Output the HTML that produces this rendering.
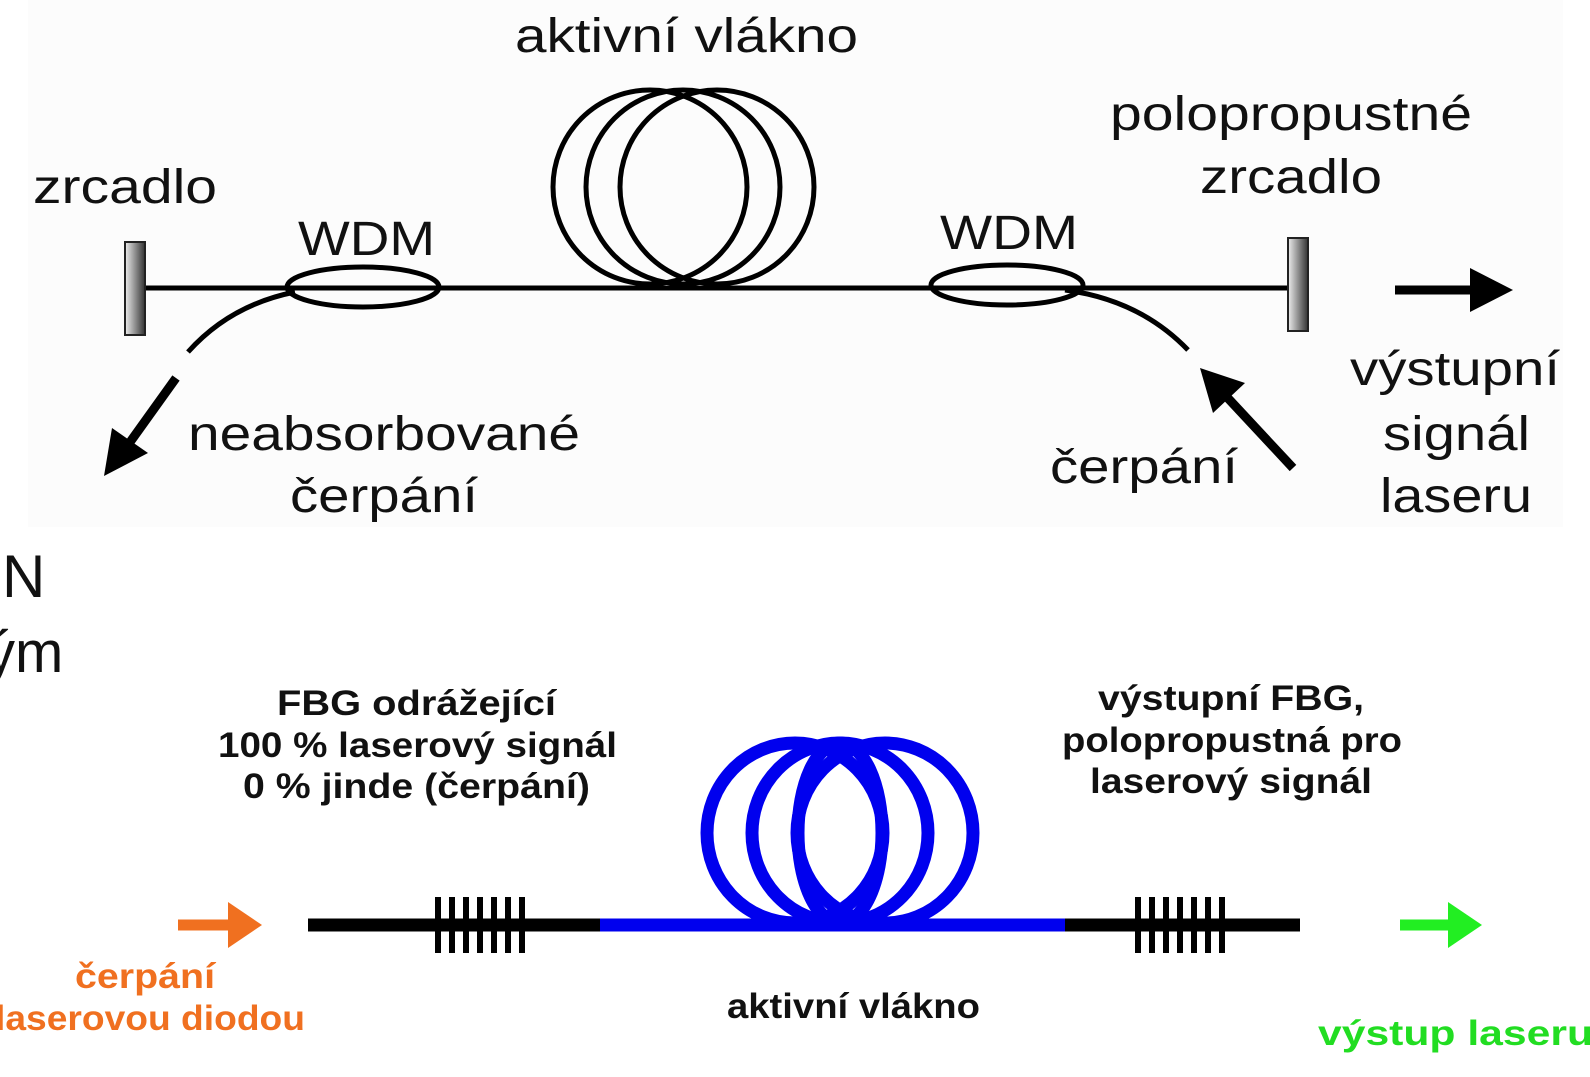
<!DOCTYPE html>
<html><head><meta charset="utf-8"><style>
html,body{margin:0;padding:0;background:#fff;}
svg{display:block;}
.t{font-family:"Liberation Sans",Arial,sans-serif;font-size:48px;fill:#111;}
.b{font-family:"Liberation Sans",Arial,sans-serif;font-size:35px;font-weight:bold;fill:#111;}
</style></head><body>
<svg width="1590" height="1077" viewBox="0 0 1590 1077" xmlns="http://www.w3.org/2000/svg">
<defs>
<linearGradient id="g" x1="0" x2="1"><stop offset="0" stop-color="#eee"/><stop offset="1" stop-color="#333"/></linearGradient>
</defs>
<rect x="28" y="0" width="1535" height="527" fill="#fcfcfc"/>
<text class="t" x="515" y="52" textLength="343" lengthAdjust="spacingAndGlyphs">aktivní vlákno</text>
<text class="t" x="33" y="203" textLength="184" lengthAdjust="spacingAndGlyphs">zrcadlo</text>
<text class="t" x="298" y="255" textLength="137" lengthAdjust="spacingAndGlyphs">WDM</text>
<text class="t" x="940" y="249" textLength="138" lengthAdjust="spacingAndGlyphs">WDM</text>
<text class="t" x="1110" y="130" textLength="362" lengthAdjust="spacingAndGlyphs">polopropustné</text>
<text class="t" x="1200" y="193" textLength="182" lengthAdjust="spacingAndGlyphs">zrcadlo</text>
<text class="t" x="1350" y="385" textLength="210" lengthAdjust="spacingAndGlyphs">výstupní</text>
<text class="t" x="1383" y="450" textLength="147" lengthAdjust="spacingAndGlyphs">signál</text>
<text class="t" x="1380" y="512" textLength="152" lengthAdjust="spacingAndGlyphs">laseru</text>
<text class="t" x="188" y="450" textLength="392" lengthAdjust="spacingAndGlyphs">neabsorbované</text>
<text class="t" x="290" y="512" textLength="188" lengthAdjust="spacingAndGlyphs">čerpání</text>
<text class="t" x="1050" y="483" textLength="188" lengthAdjust="spacingAndGlyphs">čerpání</text>

<g fill="none" stroke="#000" stroke-width="5">
<circle cx="650" cy="187" r="97"/>
<circle cx="683" cy="187" r="97"/>
<circle cx="717" cy="187" r="97"/>
<line x1="145" y1="288" x2="1290" y2="288"/>
<ellipse cx="363" cy="287" rx="76" ry="20"/>
<ellipse cx="1007" cy="285" rx="76" ry="20"/>
<path d="M295 292 Q230 305 188 352"/>
<path d="M1065 290 Q1140 300 1188 350"/>
</g>
<rect x="125" y="242" width="20" height="93" fill="url(#g)" stroke="#222" stroke-width="2"/>
<rect x="1288" y="238" width="20" height="93" fill="url(#g)" stroke="#222" stroke-width="2"/>
<line x1="176" y1="378" x2="128" y2="445" stroke="#000" stroke-width="9"/>
<polygon points="104,476 112,428 148,453" fill="#000"/>
<line x1="1293" y1="468" x2="1225" y2="395" stroke="#000" stroke-width="9"/>
<polygon points="1200,368 1245,383 1213,413" fill="#000"/>
<line x1="1395" y1="290" x2="1475" y2="290" stroke="#000" stroke-width="9"/>
<polygon points="1513,290 1470,268 1470,312" fill="#000"/>

<text x="2" y="597" style="font-family:'Liberation Sans',sans-serif;font-size:60px;fill:#111">N</text>
<text x="-14" y="672" style="font-family:'Liberation Sans',sans-serif;font-size:58px;fill:#111">ým</text>

<text class="b" x="277" y="715" textLength="279" lengthAdjust="spacingAndGlyphs">FBG odrážející</text>
<text class="b" x="218" y="757" textLength="399" lengthAdjust="spacingAndGlyphs">100 % laserový signál</text>
<text class="b" x="243" y="798" textLength="347" lengthAdjust="spacingAndGlyphs">0 % jinde (čerpání)</text>
<text class="b" x="1098" y="710" textLength="266" lengthAdjust="spacingAndGlyphs">výstupní FBG,</text>
<text class="b" x="1062" y="752" textLength="340" lengthAdjust="spacingAndGlyphs">polopropustná pro</text>
<text class="b" x="1090" y="793" textLength="282" lengthAdjust="spacingAndGlyphs">laserový signál</text>
<text class="b" x="727" y="1018" textLength="253" lengthAdjust="spacingAndGlyphs">aktivní vlákno</text>
<text class="b" x="75" y="988" textLength="140" lengthAdjust="spacingAndGlyphs" style="fill:#f07020">čerpání</text>
<text class="b" x="-5" y="1030" textLength="310" lengthAdjust="spacingAndGlyphs" style="fill:#f07020">laserovou diodou</text>
<text class="b" x="1318" y="1045" textLength="275" lengthAdjust="spacingAndGlyphs" style="fill:#22dd22">výstup laseru</text>

<g fill="none" stroke="#0000ee" stroke-width="13">
<ellipse cx="795" cy="833" rx="88" ry="90"/>
<ellipse cx="840" cy="833" rx="88" ry="90"/>
<ellipse cx="885" cy="833" rx="88" ry="90"/>
<ellipse cx="840" cy="833" rx="42" ry="90"/>
</g>
<line x1="600" y1="925" x2="1065" y2="925" stroke="#0000ee" stroke-width="13"/>
<line x1="308" y1="925" x2="600" y2="925" stroke="#000" stroke-width="13"/>
<line x1="1065" y1="925" x2="1300" y2="925" stroke="#000" stroke-width="13"/>
<g stroke="#000" stroke-width="6">
<path d="M438 897V953M452 897V953M466 897V953M480 897V953M494 897V953M508 897V953M522 897V953"/>
<path d="M1138 897V953M1152 897V953M1166 897V953M1180 897V953M1194 897V953M1208 897V953M1222 897V953"/>
</g>
<line x1="178" y1="925" x2="232" y2="925" stroke="#f07020" stroke-width="11"/>
<polygon points="262,925 228,902 228,948" fill="#f07020"/>
<line x1="1400" y1="925" x2="1452" y2="925" stroke="#22ee22" stroke-width="11"/>
<polygon points="1482,925 1448,902 1448,948" fill="#22ee22"/>
</svg>
</body></html>
